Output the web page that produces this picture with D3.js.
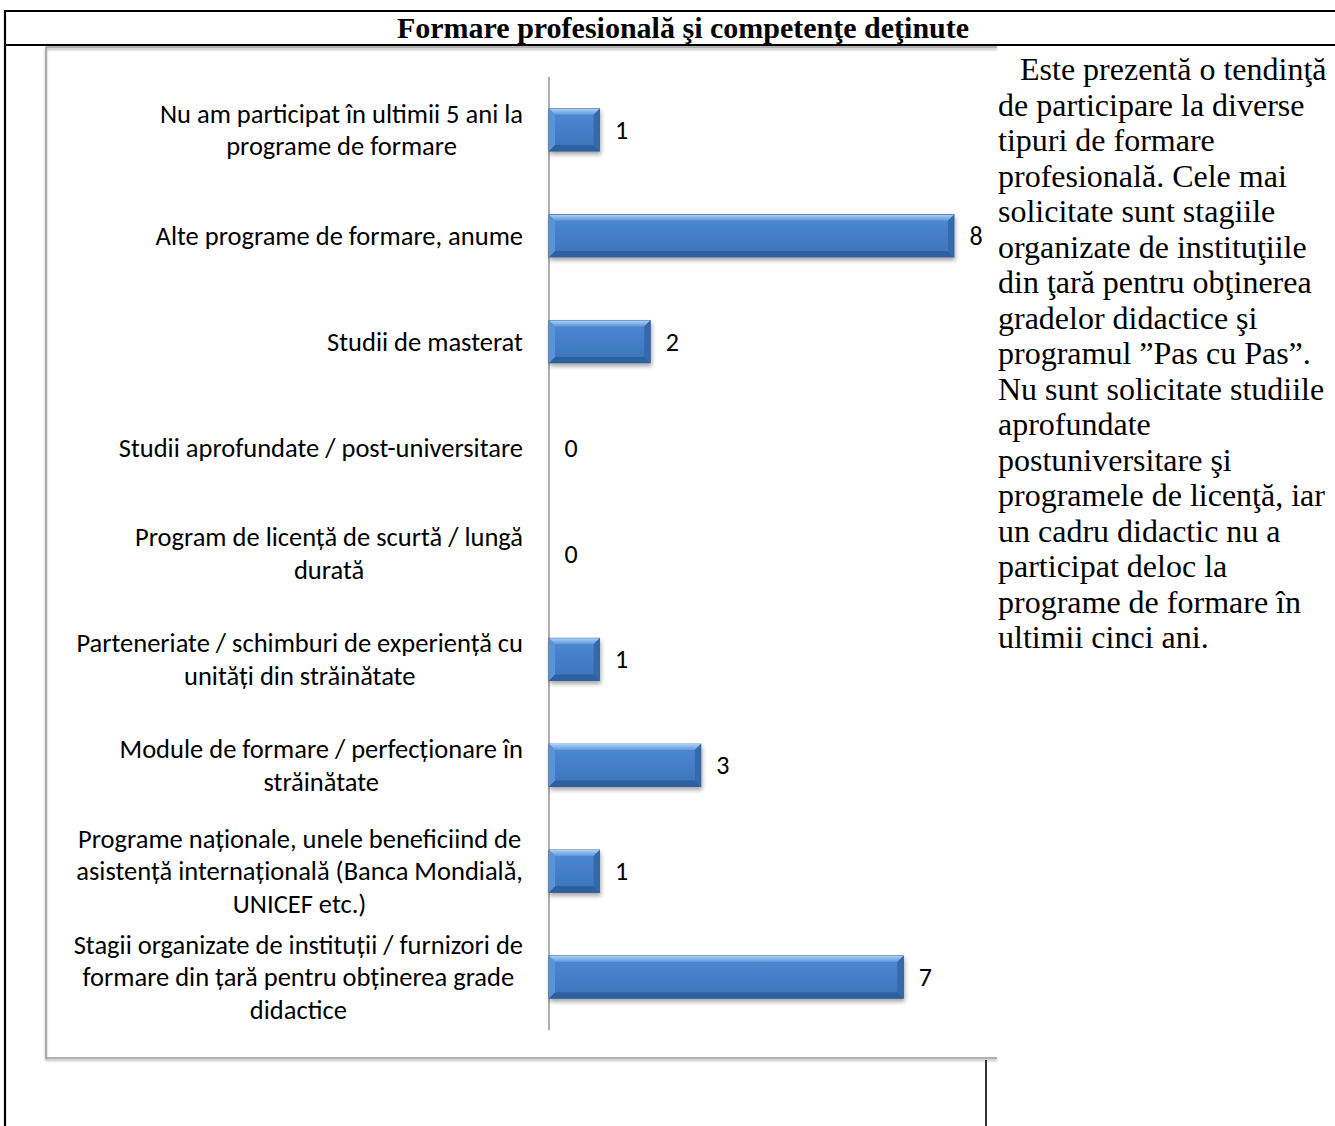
<!DOCTYPE html>
<html lang="ro">
<head>
<meta charset="utf-8">
<title>Formare profesională şi competenţe deţinute</title>
<script src="https://cdn.jsdelivr.net/npm/d3@7"></script>
<style>
  html, body { margin: 0; padding: 0; background: #fff; }
  svg { display: block; }
  .cat { font-family: Carlito, Calibri, Lato, sans-serif; font-size: 26.5px; fill: #000; }
  .val { font-family: Carlito, Calibri, Lato, sans-serif; font-size: 26px; fill: #000; }
  .title { font-family: "Liberation Serif", "Times New Roman", serif; font-weight: bold; font-size: 30px; }
  .body { font-family: "Liberation Serif", "Times New Roman", serif; font-size: 32px; }
</style>
</head>
<body>
<svg id="page" width="1335" height="1126"></svg>
<script>
// Survey answers: number of teachers per type of professional training
const categories = [
  "Nu am participat în ultimii 5 ani la\nprograme de formare",
  "Alte programe de formare, anume",
  "Studii de masterat",
  "Studii aprofundate / post-universitare",
  "Program de licență de scurtă / lungă\ndurată",
  "Parteneriate / schimburi de experiență cu\nunități din străinătate",
  "Module de formare / perfecționare în\nstrăinătate",
  "Programe naționale, unele beneficiind de\nasistență internațională (Banca Mondială,\nUNICEF etc.)",
  "Stagii  organizate de instituții / furnizori de\nformare din țară pentru obținerea  grade\ndidactice"
];
const values = [1, 8, 2, 0, 0, 1, 3, 1, 7];

const titleText = "Formare profesională şi competenţe deţinute";
const commentLines = [
  "Este prezentă o tendinţă",
  "de participare la diverse",
  "tipuri de formare",
  "profesională. Cele mai",
  "solicitate sunt stagiile",
  "organizate de instituţiile",
  "din ţară pentru obţinerea",
  "gradelor didactice şi",
  "programul ”Pas cu Pas”.",
  "Nu sunt solicitate studiile",
  "aprofundate",
  "postuniversitare şi",
  "programele de licenţă, iar",
  "un cadru didactic nu a",
  "participat deloc la",
  "programe de formare în",
  "ultimii cinci ani."
];

const svg = d3.select("#page");
const W = 1335, H = 1126;
svg.append("rect").attr("width", W).attr("height", H).attr("fill", "#fff");

const defs = svg.append("defs");
const face = defs.append("linearGradient").attr("id", "barFace")
  .attr("x1", 0).attr("y1", 0).attr("x2", 0).attr("y2", 1);
face.append("stop").attr("offset", "0%").attr("stop-color", "#4d8ad2");
face.append("stop").attr("offset", "100%").attr("stop-color", "#3b74ba");
const topBevel = defs.append("linearGradient").attr("id", "barTop")
  .attr("x1", 0).attr("y1", 0).attr("x2", 0).attr("y2", 1);
topBevel.append("stop").attr("offset", "0%").attr("stop-color", "#a9d0f6");
topBevel.append("stop").attr("offset", "100%").attr("stop-color", "#5e98dc");
const shadow = defs.append("filter").attr("id", "barShadow")
  .attr("x", "-10%").attr("y", "-20%").attr("width", "130%").attr("height", "160%");
shadow.append("feDropShadow").attr("dx", 1).attr("dy", 3).attr("stdDeviation", 2.2)
  .attr("flood-color", "#000").attr("flood-opacity", 0.35);
const frameShadow = defs.append("filter").attr("id", "frameShadow")
  .attr("x", "-5%").attr("y", "-5%").attr("width", "110%").attr("height", "110%");
frameShadow.append("feDropShadow").attr("dx", 0).attr("dy", 2).attr("stdDeviation", 1.2)
  .attr("flood-color", "#000").attr("flood-opacity", 0.35);

// Table grid around the figure
const grid = svg.append("g").attr("stroke", "#000").attr("stroke-width", 2.2);
grid.append("line").attr("x1", 4).attr("x2", W).attr("y1", 11).attr("y2", 11);
grid.append("line").attr("x1", 4).attr("x2", W).attr("y1", 45).attr("y2", 45);
grid.append("line").attr("x1", 5).attr("x2", 5).attr("y1", 10).attr("y2", H);
grid.append("line").attr("x1", 986).attr("x2", 986).attr("y1", 1060).attr("y2", H).attr("stroke-width", 1.6);

svg.append("text").attr("class", "title")
  .attr("x", 683).attr("y", 38).attr("text-anchor", "middle")
  .text(titleText);

// Chart frame (right side runs under the text column)
svg.append("path")
  .attr("d", "M997,47 H46 V1058 H997")
  .attr("fill", "none").attr("stroke", "#9a9a9a").attr("stroke-width", 1.5)
  .attr("filter", "url(#frameShadow)");

// Scales
const plotTop = 77, plotBottom = 1030, axisX = 549;
const y = d3.scaleBand().domain(categories).range([plotTop, plotBottom])
  .paddingInner(0.6).paddingOuter(0.3);
const x = d3.scaleLinear().domain([0, 8]).range([axisX, 954]);

// Category axis: domain line only, labels drawn as centred blocks
const axisG = svg.append("g").attr("transform", `translate(${axisX},0)`)
  .call(d3.axisLeft(y).tickSize(0).tickFormat(""));
axisG.select(".domain").attr("stroke", "#8c8c8c").attr("stroke-width", 1.4)
  .attr("d", `M0,${plotTop}V${plotBottom}`);

const labelRight = axisX - 26;
const lineH = 32.5;
categories.forEach(c => {
  const lines = c.split("\n");
  const t = svg.append("text").attr("class", "cat").attr("text-anchor", "middle");
  const cy = y(c) + y.bandwidth() / 2;
  const first = cy - (lines.length - 1) * lineH / 2 + 9;
  lines.forEach((ln, i) => {
    t.append("tspan").attr("x", 0).attr("y", first + i * lineH).text(ln);
  });
  const w = t.node().getBBox().width;
  t.attr("transform", `translate(${labelRight - w / 2},0)`);
});

// Bevelled bars
const b = 6;
const barsG = svg.append("g");
values.forEach((v, i) => {
  const c = categories[i];
  const x0 = x(0), x1 = x(v), y0 = y(c), y1 = y(c) + y.bandwidth();
  if (x1 - x0 > 0) {
    const g = barsG.append("g").attr("filter", "url(#barShadow)");
    g.append("rect").attr("x", x0).attr("y", y0).attr("width", x1 - x0).attr("height", y1 - y0)
      .attr("fill", "url(#barFace)").attr("stroke", "#28558f").attr("stroke-width", 0.8);
    const poly = (pts, fill) => g.append("polygon")
      .attr("points", pts.map(p => p.join(",")).join(" ")).attr("fill", fill);
    poly([[x0, y0], [x1, y0], [x1 - b, y0 + b], [x0 + b, y0 + b]], "url(#barTop)");
    poly([[x0, y1], [x1, y1], [x1 - b, y1 - b], [x0 + b, y1 - b]], "#2d5f9f");
    poly([[x0, y0], [x0 + b, y0 + b], [x0 + b, y1 - b], [x0, y1]], "#5a93d6");
    poly([[x1, y0], [x1 - b, y0 + b], [x1 - b, y1 - b], [x1, y1]], "#3469ab");
  }
  svg.append("text").attr("class", "val")
    .attr("x", x1 + 22).attr("y", (y0 + y1) / 2 + 9).attr("text-anchor", "middle")
    .text(v);
});

// Commentary column (first line indented)
const body = svg.append("text").attr("class", "body");
commentLines.forEach((ln, i) => {
  body.append("tspan").attr("x", i === 0 ? 1020 : 998).attr("y", 80 + i * 35.5).text(ln);
});
</script>
</body>
</html>
